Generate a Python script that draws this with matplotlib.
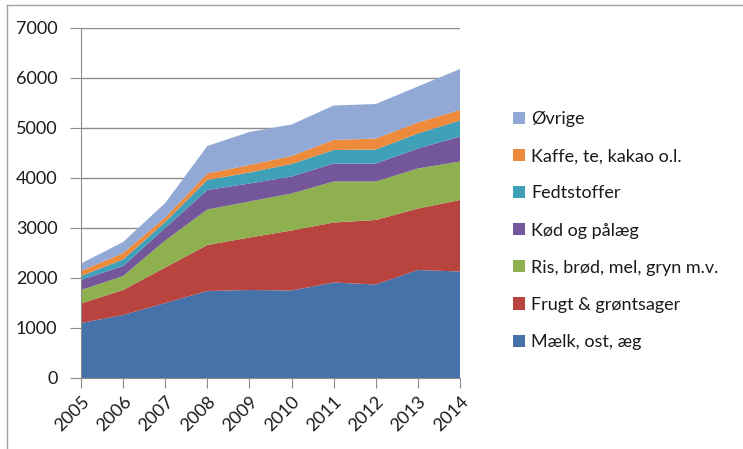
import matplotlib
matplotlib.use("Agg")
import matplotlib.pyplot as plt
from matplotlib.patches import Patch
from matplotlib.lines import Line2D

years = [2005, 2006, 2007, 2008, 2009, 2010, 2011, 2012, 2013, 2014]
labels = ["Mælk, ost, æg", "Frugt & grøntsager", "Ris, brød, mel, gryn m.v.",
          "Kød og pålæg", "Fedtstoffer", "Kaffe, te, kakao o.l.", "Øvrige"]

maelk = [1100, 1260, 1500, 1740, 1760, 1750, 1910, 1870, 2160, 2130]
frugt = [390, 500, 710, 920, 1050, 1200, 1200, 1290, 1230, 1430]
ris = [270, 280, 540, 710, 720, 740, 820, 770, 800, 770]
koed = [200, 200, 250, 390, 360, 340, 360, 360, 400, 500]
fedt = [80, 130, 120, 200, 220, 250, 270, 280, 300, 320]
kaffe = [100, 130, 90, 130, 150, 160, 200, 220, 220, 210]
oevrige = [150, 220, 290, 550, 660, 630, 690, 690, 720, 820]

colors = ["#4672AA", "#B8433F", "#8EB04E", "#73579A", "#3FA0B8", "#EE8A3C", "#92A9D6"]
yticks = [0, 1000, 2000, 3000, 4000, 5000, 6000, 7000]

plt.rcParams['font.family'] = ['Lato', 'DejaVu Sans']

W, H = 743, 449
fig = plt.figure(figsize=(W / 100, H / 100), dpi=100)
ax = fig.add_axes([81 / W, 1 - 378 / H, (460 - 81) / W, (378 - 28) / H])

series = [maelk, frugt, ris, koed, fedt, kaffe, oevrige]
ax.stackplot(years, *series, colors=colors, linewidth=0)

ax.set_xlim(2005, 2014)
ax.set_ylim(0, 7000)
ax.set_yticks(yticks)
ax.set_yticklabels([str(v) for v in yticks])
ax.set_xticks(years)
ax.set_xticklabels([str(y) for y in years], rotation=45, ha='right', va='top',
                   rotation_mode='anchor')

for v in yticks[1:]:
    ax.axhline(v, color='#8c8c8c', lw=1, zorder=0)
ax.set_axisbelow(True)

for s in ['top', 'right']:
    ax.spines[s].set_visible(False)
ax.spines['left'].set_color('#8c8c8c')
ax.spines['bottom'].set_color('#8c8c8c')
ax.tick_params(axis='y', length=8, color='#8c8c8c', labelsize=13, pad=9, labelcolor='#1a1a1a')
ax.tick_params(axis='x', length=7, color='#8c8c8c', labelsize=13, pad=4, labelcolor='#1a1a1a')

handles = [Patch(facecolor=c, edgecolor='none') for c in colors]
leg = fig.legend(handles[::-1], labels[::-1], loc='upper left',
                 bbox_to_anchor=(506 / W, 1 - 104 / H), frameon=False,
                 fontsize=13, handlelength=0.65, handleheight=0.65,
                 handletextpad=0.35, labelspacing=1.17, borderaxespad=0)
for t in leg.get_texts():
    t.set_color('#1a1a1a')

# outer frame
fig.add_artist(Line2D([7 / W, 7 / W], [0, 1 - 5 / H], transform=fig.transFigure,
                      color='#a0a0a0', lw=1))
fig.add_artist(Line2D([7 / W, 1], [1 - 5 / H, 1 - 5 / H], transform=fig.transFigure,
                      color='#a0a0a0', lw=1))

fig.savefig("out.png", dpi=100)
